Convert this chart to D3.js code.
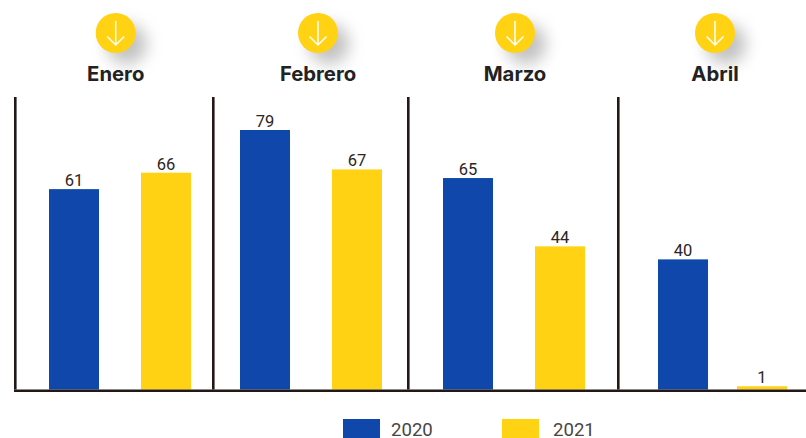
<!DOCTYPE html>
<html>
<head>
<meta charset="utf-8">
<script src="https://cdn.jsdelivr.net/npm/d3@7"></script>
<style>
  html, body { margin: 0; padding: 0; background: #fff; overflow: hidden; }
  svg { display: block; }
</style>
</head>
<body>
<div id="chart"></div>
<script>
const months = ["Enero", "Febrero", "Marzo", "Abril"]
const series = ["2020", "2021"]
const values2020 = [61, 79, 65, 40]
const values2021 = [66, 67, 44, 1]

const width = 806
const height = 438
const baseline = 389.5
const barWidth = 50
const lineColor = "#231815"
const colors = d3.scaleOrdinal().domain(series).range(["#0f47ab", "#ffd314"])

// the panels are not evenly spaced in the original, so the x scales are ordinal
const panelX = d3.scaleOrdinal().domain(months).range([15.3, 213.3, 408.3, 618.3])
const iconX = d3.scaleOrdinal().domain(months).range([115.7, 318, 515, 715])
const barX = {
  "2020": d3.scaleOrdinal().domain(months).range([49, 240, 443, 658]),
  "2021": d3.scaleOrdinal().domain(months).range([141, 332, 535, 737])
}
// each panel was a separate chart, Marzo and Abril run a little shorter
const panelTop = d3.scaleOrdinal().domain(months).range([130, 130, 132.5, 132.5])
const y = month => d3.scaleLinear().domain([0, 79]).range([baseline, panelTop(month)])

const svg = d3.select("#chart").append("svg")
    .attr("width", width)
    .attr("height", height)

const defs = svg.append("defs")
defs.append("filter")
    .attr("id", "blur")
    .attr("x", "-80%").attr("y", "-80%")
    .attr("width", "260%").attr("height", "260%")
  .append("feGaussianBlur")
    .attr("stdDeviation", 8)

/* Bars */
const rows = months.flatMap((month, i) => [
  { month, year: "2020", value: values2020[i] },
  { month, year: "2021", value: values2021[i] }
])

svg.append("g").selectAll("rect")
  .data(rows)
  .join("rect")
    .attr("x", d => barX[d.year](d.month))
    .attr("y", d => y(d.month)(d.value))
    .attr("width", barWidth)
    .attr("height", d => baseline - y(d.month)(d.value))
    .attr("fill", d => colors(d.year))

svg.append("g").selectAll("text")
  .data(rows)
  .join("text")
    .attr("x", d => barX[d.year](d.month) + barWidth / 2)
    .attr("y", d => y(d.month)(d.value) - 3)
    .attr("text-anchor", "middle")
    .attr("font-family", "Roboto")
    .attr("font-size", 16.5)
    .attr("fill", "#2b2523")
    .text(d => d.value)

/* Panel lines */
svg.append("g").selectAll("line")
  .data(months)
  .join("line")
    .attr("x1", d => panelX(d))
    .attr("x2", d => panelX(d))
    .attr("y1", 97)
    .attr("y2", baseline)
    .attr("stroke", lineColor)
    .attr("stroke-width", 2.6)

svg.append("line")
    .attr("x1", 14)
    .attr("x2", width)
    .attr("y1", baseline + 1.2)
    .attr("y2", baseline + 1.2)
    .attr("stroke", lineColor)
    .attr("stroke-width", 2.4)

/* Month headers */
const header = svg.append("g").selectAll("g")
  .data(months)
  .join("g")
    .attr("transform", d => `translate(${iconX(d)},33)`)

header.append("circle")
    .attr("cx", 11)
    .attr("cy", 11)
    .attr("r", 20)
    .attr("fill", "#8a8a8a")
    .attr("opacity", 0.52)
    .attr("filter", "url(#blur)")

header.append("circle")
    .attr("r", 20)
    .attr("fill", "#ffd314")

header.append("path")
    .attr("d", "M0,-12V12M-8.5,3.5L0,12L8.5,3.5")
    .attr("fill", "none")
    .attr("stroke", "#fff")
    .attr("stroke-width", 1.5)

header.append("text")
    .attr("y", 48)
    .attr("text-anchor", "middle")
    .attr("font-family", "Inter")
    .attr("font-weight", 700)
    .attr("font-size", 20.3)
    .attr("fill", "#222")
    .text(d => d)

/* Legend */
const legendX = d3.scaleOrdinal().domain(series).range([343, 502])
const legend = svg.append("g").selectAll("g")
  .data(series)
  .join("g")
    .attr("transform", d => `translate(${legendX(d)},419)`)

legend.append("rect")
    .attr("width", 37)
    .attr("height", 19)
    .attr("fill", d => colors(d))

legend.append("text")
    .attr("x", d => d == "2020" ? 48 : 51)
    .attr("y", 16.5)
    .attr("font-family", "Roboto")
    .attr("font-size", 18.6)
    .attr("fill", "#4a4543")
    .text(d => d)
</script>
</body>
</html>
